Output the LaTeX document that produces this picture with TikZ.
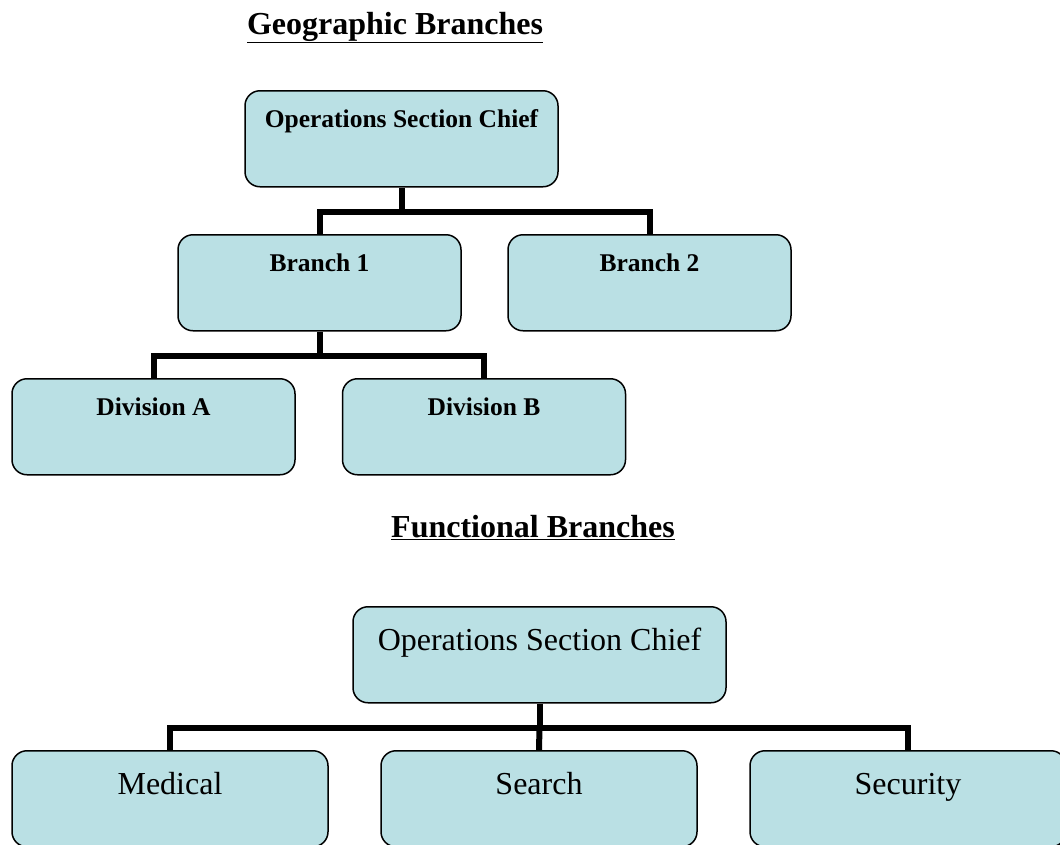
\documentclass[tikz,border=0pt]{standalone}
\usepackage{fontspec}
\setmainfont{Liberation Serif}
\usetikzlibrary{positioning}
\definecolor{boxfill}{RGB}{186,224,228}

\begin{document}
\begin{tikzpicture}[x=1pt,y=-1pt,
    orgbox/.style={draw,rounded corners=15pt,fill=boxfill,line width=1.5pt,inner sep=0pt,anchor=north},
    geobox/.style={orgbox,minimum width=283pt,text height=37pt,text depth=59pt,font=\fontsize{25.5}{30}\selectfont\bfseries},
    funbox/.style={orgbox,minimum width=316pt,text height=44pt,text depth=52pt,font=\fontsize{32}{38}\selectfont},
    conn/.style={line width=6pt},
    title/.style={font=\fontsize{32}{38}\selectfont\bfseries,anchor=base,inner sep=0pt}
    ]
    \useasboundingbox (0,0) rectangle (1060,844);
    % geographic
    \node[title] (geotitle) at (395,34) {\underline{Geographic Branches}};
    \node[geobox,minimum width=313pt] (gchief) at (401.5,90) {Operations Section Chief};
    \node[geobox] (br1) at (319.5,234) {Branch 1};
    \node[geobox] (br2) at (649.5,234) {Branch 2};
    \node[geobox] (diva) at (153.5,378) {Division A};
    \node[geobox] (divb) at (484,378) {Division B};
    \draw[conn] (gchief.south) -- ++(0,24) coordinate (gj);
    \draw[conn] (br1.north) |- (gj) -| (br2.north);
    \draw[conn] (br1.south) -- ++(0,24) coordinate (bj);
    \draw[conn] (diva.north) |- (bj) -| (divb.north);
    % functional
    \node[title] (funtitle) at (533,537) {\underline{Functional Branches}};
    \node[funbox,minimum width=373pt] (fchief) at (539.5,606) {Operations Section Chief};
    \node[funbox] (med) at (170,750) {Medical};
    \node[funbox] (search) at (539,750) {Search};
    \node[funbox] (sec) at (908,750) {Security};
    \draw[conn] (fchief.south) -- ++(0,24) coordinate (fj);
    \draw[conn] (med.north) |- (fj) -| (sec.north);
    \draw[conn] (fj) -- (search.north);
\end{tikzpicture}
\end{document}
